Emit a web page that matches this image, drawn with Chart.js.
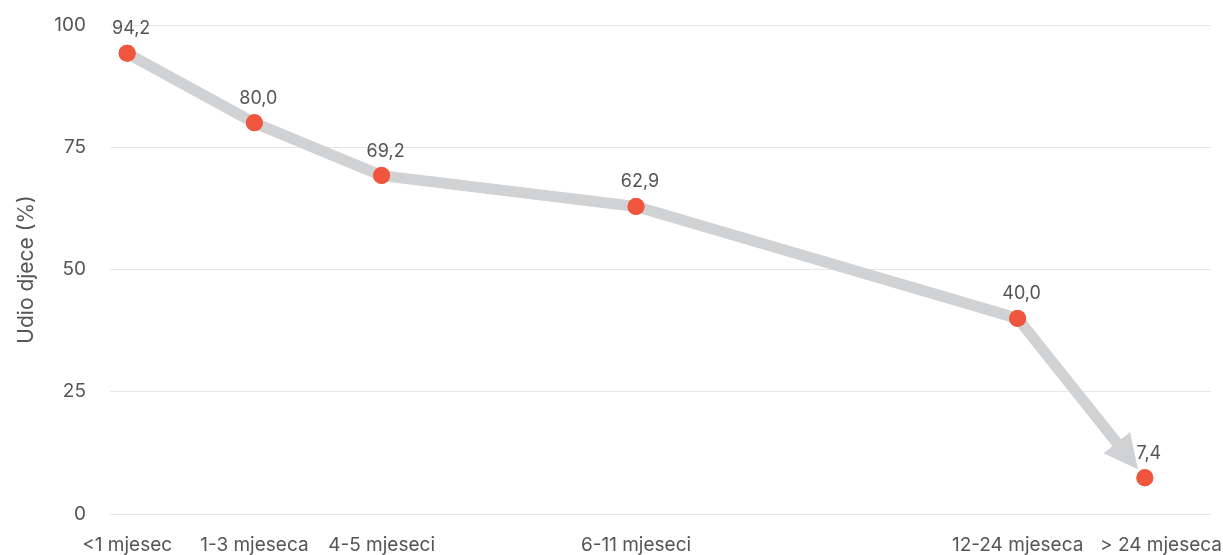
<!DOCTYPE html>
<html>
<head>
<meta charset="utf-8">
<script src="https://cdn.jsdelivr.net/npm/chart.js@4/dist/chart.umd.min.js"></script>
<style>
  html, body { margin: 0; padding: 0; background: #ffffff; }
  #wrap { width: 1223px; height: 555px; }
</style>
</head>
<body>
<div id="wrap"><canvas id="c" width="1223" height="555"></canvas></div>
<script>
// Age groups and their position on the time axis
const categories = ['<1 mjesec', '1-3 mjeseca', '4-5 mjeseci', '6-11 mjeseci', '12-24 mjeseca', '> 24 mjeseca'];
const positions = [0, 1, 2, 4, 7, 8];
// Share of children (%)
const values = [94.2, 80.0, 69.2, 62.9, 40.0, 7.4];
const yTicks = [0, 25, 50, 75, 100];

const FONT = 'Inter, "Open Sans", sans-serif';
const TEXT = '#555555';
const LINE = '#d1d2d4';
const DOT = '#f0563d';

const points = positions.map((p, i) => ({ x: p, y: values[i] }));
const lastIdx = points.length - 1;

// Draws the final segment as an arrow, value labels and the category labels
const arrowAndLabels = {
  id: 'arrowAndLabels',
  afterDatasetsDraw(chart) {
    const ctx = chart.ctx;
    const meta = chart.getDatasetMeta(0);
    const a = meta.data[lastIdx - 1];
    const b = meta.data[lastIdx];
    const dx = b.x - a.x, dy = b.y - a.y;
    const len = Math.hypot(dx, dy);
    const ux = dx / len, uy = dy / len;
    const tipGap = 11, headLen = 34, headHalf = 17;
    const tx = b.x - ux * tipGap, ty = b.y - uy * tipGap;
    const bx = tx - ux * headLen, by = ty - uy * headLen;
    ctx.save();
    ctx.strokeStyle = LINE;
    ctx.lineWidth = 11;
    ctx.lineCap = 'butt';
    ctx.beginPath();
    ctx.moveTo(a.x, a.y);
    ctx.lineTo(bx + ux * 2, by + uy * 2);
    ctx.stroke();
    ctx.fillStyle = LINE;
    ctx.beginPath();
    ctx.moveTo(tx, ty);
    ctx.lineTo(bx - uy * headHalf, by + ux * headHalf);
    ctx.lineTo(bx + uy * headHalf, by - ux * headHalf);
    ctx.closePath();
    ctx.fill();
    // redraw points on top of the arrow
    meta.data.forEach(el => el.draw(ctx, chart.chartArea));
    ctx.fillStyle = TEXT;
    ctx.font = '18px ' + FONT;
    ctx.textAlign = 'center';
    ctx.textBaseline = 'alphabetic';
    meta.data.forEach((el, i) => {
      const label = values[i].toFixed(1).replace('.', ',');
      ctx.fillText(label, el.x + 4, el.y - 19);
    });
    // category labels under the axis; the last one sits flush with the right edge
    const xs = chart.scales.x;
    const W = chart.width;
    ctx.font = '19px ' + FONT;
    ctx.textBaseline = 'middle';
    categories.forEach((c, i) => {
      const cx = xs.getPixelForValue(positions[i]);
      const w = ctx.measureText(c).width;
      const px = i === categories.length - 1 ? W - 1 - w / 2 : cx;
      ctx.fillText(c, px, chart.chartArea.bottom + 31);
    });
    ctx.restore();
  }
};

new Chart(document.getElementById('c'), {
  type: 'line',
  data: {
    datasets: [{
      data: points,
      borderColor: LINE,
      borderWidth: 11,
      borderJoinStyle: 'round',
      tension: 0,
      pointRadius: 8.5,
      pointHoverRadius: 8.5,
      pointBackgroundColor: DOT,
      pointBorderWidth: 0,
      segment: {
        borderColor: c => c.p1DataIndex === lastIdx ? 'rgba(0,0,0,0)' : LINE
      }
    }]
  },
  options: {
    responsive: false,
    animation: false,
    events: [],
    layout: { padding: { top: 25, right: 12, left: 14, bottom: 0 } },
    plugins: { legend: { display: false }, tooltip: { enabled: false } },
    scales: {
      x: {
        type: 'linear',
        min: -0.135,
        max: 8.52,
        afterBuildTicks: s => { s.ticks = positions.map(v => ({ value: v })); },
        afterFit: s => { s.height = 41; s.paddingLeft = 0; s.paddingRight = 0; },
        grid: { display: false, drawTicks: false },
        border: { display: false },
        ticks: { display: false }
      },
      y: {
        min: 0,
        max: 100,
        afterBuildTicks: s => { s.ticks = yTicks.map(v => ({ value: v })); },
        afterFit: s => { s.width = 96; s.paddingTop = 0; s.paddingBottom = 0; },
        grid: { color: '#e6e6e6', lineWidth: 1, drawTicks: false },
        border: { display: false },
        title: {
          display: true,
          text: 'Udio djece (%)',
          color: TEXT,
          font: { family: FONT, size: 21 },
          padding: { top: 0, bottom: 0 }
        },
        ticks: {
          padding: 24,
          color: TEXT,
          font: { family: FONT, size: 19 }
        }
      }
    }
  },
  plugins: [arrowAndLabels]
});
</script>
</body>
</html>
